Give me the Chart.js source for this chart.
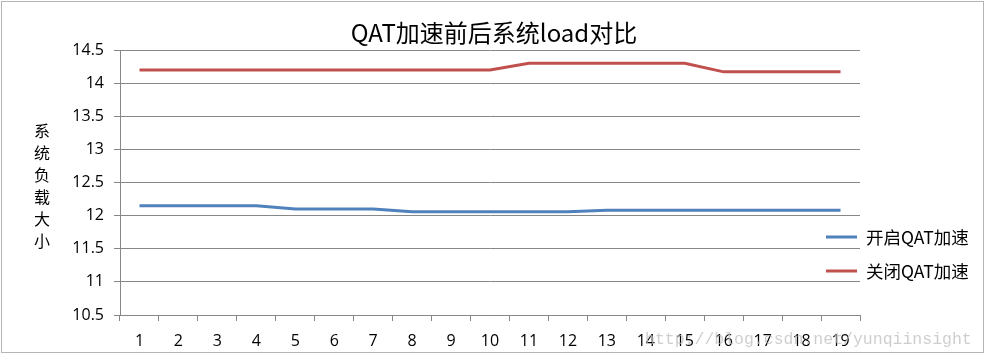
<!DOCTYPE html>
<html>
<head>
<meta charset="utf-8">
<script src="https://cdn.jsdelivr.net/npm/chart.js@4"></script>
<style>
html,body{margin:0;padding:0;background:#fff;}
#wrap{position:relative;width:987px;height:357px;}
</style>
</head>
<body>
<div id="wrap"><canvas id="c" width="987" height="357"></canvas></div>
<script>
const categories = ['1','2','3','4','5','6','7','8','9','10','11','12','13','14','15','16','17','18','19'];
const seriesOn = [12.15,12.15,12.15,12.15,12.10,12.10,12.10,12.06,12.06,12.06,12.06,12.06,12.08,12.08,12.08,12.08,12.08,12.08,12.08];
const seriesOff = [14.20,14.20,14.20,14.20,14.20,14.20,14.20,14.20,14.20,14.20,14.30,14.30,14.30,14.30,14.30,14.17,14.17,14.17,14.17];
const seriesNames = ['开启QAT加速','关闭QAT加速'];
const titleText = 'QAT加速前后系统load对比';
const yTitle = '系统负载大小';
const watermark = 'http://blog.csdn.net/yunqiinsight';

const BLUE = '#4F81BD', RED = '#C0504D', GRID = '#878787';
const cjk = '"Noto Sans CJK SC", "Noto Sans", sans-serif';

const decor = {
  id: 'decor',
  afterDraw(chart) {
    const ctx = chart.ctx;
    ctx.save();
    ctx.strokeStyle = '#b4b4b4';
    ctx.lineWidth = 1;
    ctx.strokeRect(1.5, 1.5, 982, 351);
    ctx.fillStyle = '#000';
    ctx.font = '24px ' + cjk;
    ctx.textAlign = 'center';
    ctx.textBaseline = 'middle';
    ctx.fillText(titleText, 494, 33);
    ctx.font = '16px ' + cjk;
    Array.from(yTitle).forEach((ch, i) => ctx.fillText(ch, 42, 131 + i * 22));
    const items = [[seriesNames[0], BLUE, 237], [seriesNames[1], RED, 271]];
    items.forEach(([t, col, y]) => {
      ctx.strokeStyle = col;
      ctx.lineWidth = 3;
      ctx.beginPath();
      ctx.moveTo(826, y);
      ctx.lineTo(857, y);
      ctx.stroke();
      ctx.fillStyle = '#000';
      ctx.textAlign = 'left';
      ctx.font = '17.5px ' + cjk;
      ctx.fillText(t, 866, y);
    });
    ctx.fillStyle = 'rgba(190,190,190,0.75)';
    ctx.font = '16.5px "Liberation Mono", monospace';
    ctx.textAlign = 'left';
    ctx.fillText(watermark, 645, 340);
    ctx.restore();
  }
};

new Chart(document.getElementById('c'), {
  type: 'line',
  data: {
    labels: categories,
    datasets: [
      { label: seriesNames[0], data: seriesOn, borderColor: BLUE, backgroundColor: BLUE, borderWidth: 3, pointRadius: 0, tension: 0 },
      { label: seriesNames[1], data: seriesOff, borderColor: RED, backgroundColor: RED, borderWidth: 3, pointRadius: 0, tension: 0 }
    ]
  },
  options: {
    responsive: false,
    animation: false,
    layout: { padding: { left: 0, right: 127, top: 50, bottom: 0 } },
    plugins: { legend: { display: false }, title: { display: false }, tooltip: { enabled: false } },
    scales: {
      x: {
        offset: true,
        grid: { offset: true, drawOnChartArea: false, drawTicks: true, tickLength: 6, color: GRID },
        border: { color: GRID, width: 1 },
        ticks: { color: '#000', font: { size: 16, family: '"Open Sans", sans-serif' }, padding: 11, maxRotation: 0, autoSkip: false },
        afterFit(s) { s.height = 42; }
      },
      y: {
        min: 10.5, max: 14.5,
        ticks: { stepSize: 0.5, color: '#000', font: { size: 16, family: '"Open Sans", sans-serif' }, padding: 10,
                 callback: v => String(+v.toFixed(1)) },
        grid: { color: GRID, tickLength: 6 },
        border: { color: GRID, width: 1 },
        afterFit(s) { s.width = 120; }
      }
    }
  },
  plugins: [decor]
});
</script>
</body>
</html>
